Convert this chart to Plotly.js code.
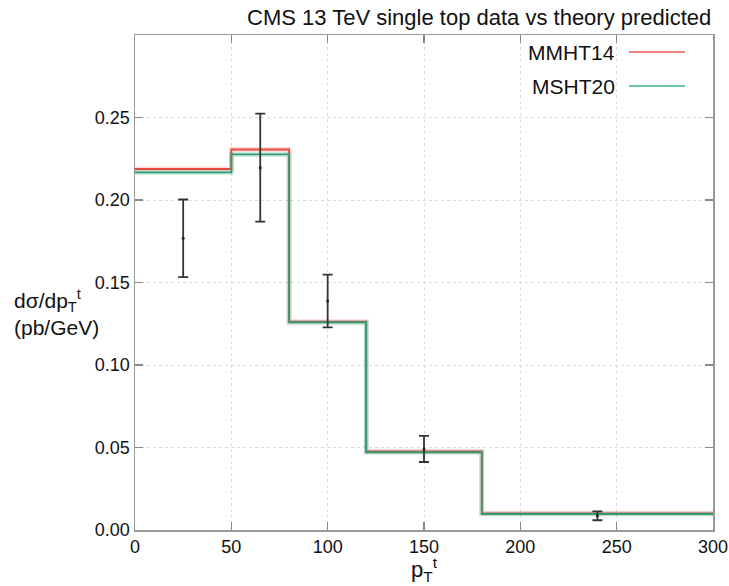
<!DOCTYPE html>
<html>
<head>
<meta charset="utf-8">
<script src="https://cdn.plot.ly/plotly-3.0.1.min.js"></script>
<style>html,body{margin:0;padding:0;background:#fff;}</style>
</head>
<body>
<div id="chart" style="width:729px;height:586px;"></div>
<script>
// Bin edges (pT^t, GeV)
const binEdges = [0, 50, 80, 120, 180, 300];
// Theory predictions per bin (pb/GeV)
const mmht14 = [0.2188, 0.2306, 0.1262, 0.0476, 0.0101];
const msht20 = [0.2167, 0.2276, 0.1258, 0.0471, 0.0097];
// CMS data points
const dataX = [25, 65, 100, 150, 240];
const dataY = [0.1768, 0.2196, 0.1388, 0.0491, 0.0086];
const dataErr = [0.0235, 0.0327, 0.0160, 0.0079, 0.0027];
const seriesNames = ["MMHT14", "MSHT20"];

function stepY(vals){ return vals.concat([vals[vals.length-1]]); }

const FONT = "Liberation Sans, Arial, sans-serif";
const red = "#e8473d", green = "#2a9d74";
const traces = [];
[[mmht14, red, "rgba(240,90,80,0.22)"], [msht20, green, "rgba(60,170,130,0.22)"]].forEach(([v, c, glow]) => {
  traces.push({x: binEdges, y: stepY(v), mode: "lines", line: {shape: "hv", color: glow, width: 5}, hoverinfo: "skip", showlegend: false});
  traces.push({x: binEdges, y: stepY(v), mode: "lines", line: {shape: "hv", color: c, width: 1.8}, showlegend: false});
});
traces.push({
  x: dataX, y: dataY, mode: "markers",
  marker: {size: 3, color: "#222"},
  error_y: {type: "data", array: dataErr, visible: true, color: "#333", thickness: 1.8, width: 5},
  showlegend: false
});

const axisCommon = {
  showline: true, linecolor: "#999", linewidth: 1.5, mirror: "ticks",
  ticks: "inside", ticklen: 8, tickcolor: "#888", tickwidth: 1.2,
  showgrid: true, gridcolor: "#dcdcdc", griddash: "dot", gridwidth: 1,
  zeroline: false,
  tickfont: {family: FONT, size: 18, color: "#111"}
};

const layout = {
  width: 729, height: 586,
  margin: {l: 135, r: 16, t: 35, b: 56},
  paper_bgcolor: "#fff", plot_bgcolor: "#fff",
  showlegend: false,
  xaxis: Object.assign({}, axisCommon, {range: [0, 300], tickvals: [0,50,100,150,200,250,300], ticktext: ["0","50","100","150","200","250","300"]}),
  yaxis: Object.assign({}, axisCommon, {range: [0, 0.3], tickvals: [0,0.05,0.1,0.15,0.2,0.25], ticktext: ["0.00","0.05","0.10","0.15","0.20","0.25"]}),
  annotations: [
    {text: "CMS 13 TeV single top data vs theory predicted", xref: "paper", yref: "paper", x: 1, y: 1, yshift: 3, xanchor: "right", yanchor: "bottom", showarrow: false, font: {family: FONT, size: 22, color: "#111"}},
    {text: "dσ/dp<sub>T</sub><sup>t</sup>", xref: "paper", yref: "paper", x: -123/578, y: (530-300)/495, xanchor: "left", yanchor: "middle", showarrow: false, font: {family: FONT, size: 21, color: "#111"}},
    {text: "(pb/GeV)", xref: "paper", yref: "paper", x: -123/578, y: (530-327)/495, xanchor: "left", yanchor: "middle", showarrow: false, font: {family: FONT, size: 21, color: "#111"}},
    {text: "p<sub>T</sub><sup>t</sup>", xref: "paper", yref: "paper", x: 0.5, y: 0, yshift: -39, xanchor: "center", yanchor: "middle", showarrow: false, font: {family: FONT, size: 22, color: "#111"}},
    {text: seriesNames[0], xref: "paper", yref: "paper", x: (617-135)/578, y: (530-52)/495, xanchor: "right", yanchor: "middle", showarrow: false, font: {family: FONT, size: 21, color: "#111"}},
    {text: seriesNames[1], xref: "paper", yref: "paper", x: (617-135)/578, y: (530-86)/495, xanchor: "right", yanchor: "middle", showarrow: false, font: {family: FONT, size: 21, color: "#111"}}
  ],
  shapes: [
    {type: "line", xref: "paper", yref: "paper", x0: (629-135)/578, x1: (685-135)/578, y0: (530-52)/495, y1: (530-52)/495, line: {color: "#ef5a50", width: 1.5}},
    {type: "line", xref: "paper", yref: "paper", x0: (629-135)/578, x1: (685-135)/578, y0: (530-86)/495, y1: (530-86)/495, line: {color: "#3ab48a", width: 1.5}}
  ]
};

Plotly.newPlot("chart", traces, layout, {displayModeBar: false, staticPlot: true});
</script>
</body>
</html>
